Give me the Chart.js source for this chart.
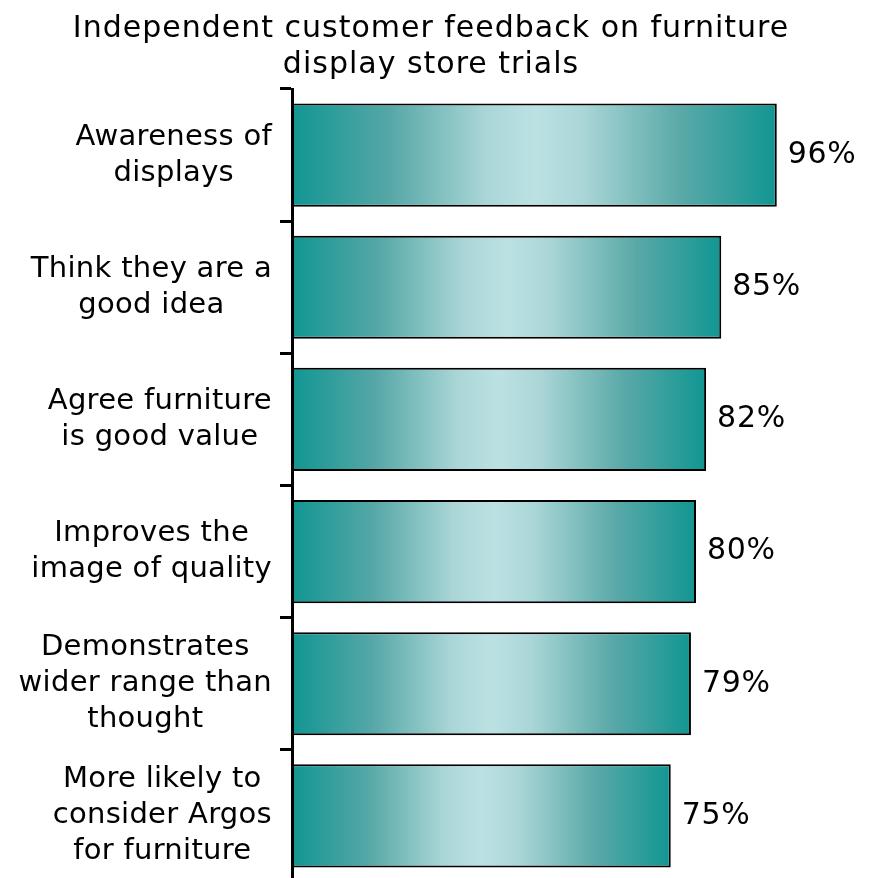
<!DOCTYPE html>
<html>
<head>
<meta charset="utf-8">
<script src="https://cdn.jsdelivr.net/npm/chart.js@4/dist/chart.umd.min.js"></script>
<style>
  html, body { margin: 0; padding: 0; background: #fff; overflow: hidden; }
  #wrap { width: 882px; height: 882px; }
</style>
</head>
<body>
<div id="wrap"><canvas id="feedback"></canvas></div>
<script>
// datos de la gráfica
const titleLines = ['Independent customer feedback on furniture', 'display store trials'];
const categories = [
    ['Awareness of', 'displays'],
    ['Think they are a', 'good idea'],
    ['Agree furniture', 'is good value'],
    ['Improves the', 'image of quality'],
    ['Demonstrates', 'wider range than', 'thought'],
    ['More likely to', 'consider Argos', 'for furniture']
];
const percentages = [96, 85, 82, 80, 79, 75];

const FONT = '"DejaVu Sans", Verdana, sans-serif';

// degradado de cada barra: verde azulado en los bordes, claro en el centro
function barGradient(context) {
    let chart = context.chart;
    let area = chart.chartArea;
    if (!area) return '#1a9895';
    let x = chart.scales.x;
    let x0 = x.getPixelForValue(0);
    let x1 = x.getPixelForValue(percentages[context.dataIndex]);
    let g = chart.ctx.createLinearGradient(x0, 0, x1, 0);
    g.addColorStop(0, '#119692');
    g.addColorStop(0.2, '#55a7a6');
    g.addColorStop(0.4, '#aad6d7');
    g.addColorStop(0.5, '#bce1e3');
    g.addColorStop(0.6, '#aad6d7');
    g.addColorStop(0.8, '#5aa9a8');
    g.addColorStop(1, '#119692');
    return g;
}

// título en dos líneas
const chartTitle = {
    id: 'chartTitle',
    afterDraw(chart) {
        let ctx = chart.ctx;
        ctx.save();
        ctx.font = '30px ' + FONT;
        ctx.letterSpacing = '1px';
        ctx.fillStyle = '#000';
        ctx.textAlign = 'center';
        ctx.textBaseline = 'alphabetic';
        titleLines.forEach((l, i) => ctx.fillText(l, 431, 37 + i * 36));
        ctx.restore();
    }
};

// etiquetas del eje Y: bloque alineado a la derecha, líneas centradas
const categoryLabels = {
    id: 'categoryLabels',
    afterDraw(chart) {
        let ctx = chart.ctx;
        let y = chart.scales.y;
        ctx.save();
        ctx.font = '29px ' + FONT;
        ctx.letterSpacing = '0.3px';
        ctx.fillStyle = '#000';
        ctx.textAlign = 'center';
        ctx.textBaseline = 'middle';
        categories.forEach((lines, i) => {
            let maxW = Math.max(...lines.map(l => ctx.measureText(l).width));
            let cx = 272 - maxW / 2;
            let cy = y.getPixelForTick(i);
            let lh = 36;
            lines.forEach((l, j) => {
                ctx.fillText(l, cx, cy + (j - (lines.length - 1) / 2) * lh);
            });
        });
        ctx.restore();
    }
};

// etiquetas de porcentaje al final de cada barra
const valueLabels = {
    id: 'valueLabels',
    afterDatasetsDraw(chart) {
        let ctx = chart.ctx;
        let meta = chart.getDatasetMeta(0);
        ctx.save();
        ctx.font = '30px ' + FONT;
        ctx.letterSpacing = '0.7px';
        ctx.fillStyle = '#000';
        ctx.textAlign = 'left';
        ctx.textBaseline = 'middle';
        meta.data.forEach((bar, i) => {
            ctx.fillText(percentages[i] + '%', bar.x + 11, bar.y);
        });
        ctx.restore();
    }
};

let ctx = document.getElementById('feedback').getContext('2d');
let myChart = new Chart(ctx, {
    type: 'bar',
    data: {
        labels: categories,
        datasets: [{
            label: 'Feedback',
            data: percentages,
            backgroundColor: barGradient,
            borderColor: '#000',
            borderWidth: 2,
            borderSkipped: false,
            categoryPercentage: 1,
            barPercentage: 0.78
        }]
    },
    options: {
        indexAxis: 'y',
        responsive: true,
        maintainAspectRatio: false,
        animation: false,
        layout: { padding: { left: 0, right: 85, top: 89, bottom: 0 } },
        plugins: {
            legend: { display: false },
            tooltip: { enabled: false },
            title: { display: false }
        },
        scales: {
            x: {
                display: false,
                min: 0,
                max: 100
            },
            y: {
                grid: {
                    offset: true,
                    drawOnChartArea: false,
                    drawTicks: true,
                    tickLength: 12,
                    color: '#000',
                    lineWidth: 3
                },
                border: { display: true, color: '#000', width: 3 },
                ticks: { display: false },
                afterFit: (scale) => { scale.width = 292; }
            }
        }
    },
    plugins: [chartTitle, categoryLabels, valueLabels]
});
</script>
</body>
</html>
